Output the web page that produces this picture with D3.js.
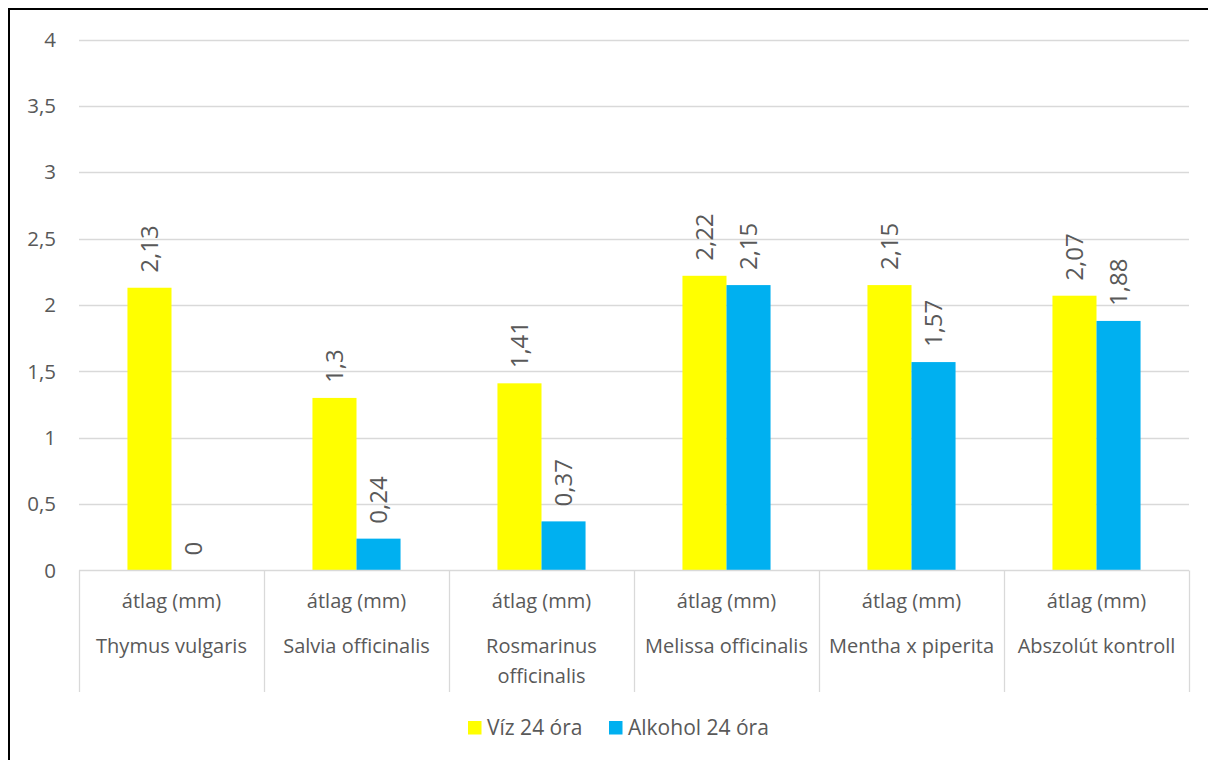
<!DOCTYPE html>
<html>
<head>
<meta charset="utf-8">
<script src="https://cdn.jsdelivr.net/npm/d3@7"></script>
<style>
  html, body { margin: 0; padding: 0; background: #fff; }
  svg { display: block; }
  text { font-family: "Open Sans", "Noto Sans", sans-serif; fill: #595959; }
</style>
</head>
<body>
<svg id="chart" width="1208" height="760"></svg>
<script>
// Plant extracts and measured mean zone values (mm)
const species = ["Thymus vulgaris", "Salvia officinalis", "Rosmarinus officinalis",
                 "Melissa officinalis", "Mentha x piperita", "Abszolút kontroll"];
const subLabel = "átlag (mm)";
const seriesNames = ["Víz 24 óra", "Alkohol 24 óra"];
const waterValues = [2.13, 1.3, 1.41, 2.22, 2.15, 2.07];
const alcoholValues = [0, 0.24, 0.37, 2.15, 1.57, 1.88];
const yTicks = [0, 0.5, 1, 1.5, 2, 2.5, 3, 3.5, 4];
const colors = ["#FFFF00", "#00B0F0"];

const svg = d3.select("#chart");
const fmt = v => String(v).replace(".", ",");

// outer frame
svg.append("rect").attr("x", 9).attr("y", 9).attr("width", 1208).attr("height", 800)
  .attr("fill", "none").attr("stroke", "#000").attr("stroke-width", 2);

const plot = { left: 79, right: 1189, top: 39.5, bottom: 570.5 };

const x = d3.scaleBand().domain(species).range([plot.left, plot.right]);
const xInner = d3.scaleBand().domain(seriesNames).range([0, x.bandwidth()])
  .paddingInner(0).paddingOuter(1.1);
const y = d3.scaleLinear().domain([0, 4]).range([plot.bottom, plot.top]);

// horizontal gridlines
svg.append("g").selectAll("line").data(yTicks.filter(d => d > 0)).join("line")
  .attr("x1", plot.left).attr("x2", plot.right)
  .attr("y1", d => Math.round(y(d)) + 0.5).attr("y2", d => Math.round(y(d)) + 0.5)
  .attr("stroke", "#d9d9d9").attr("stroke-width", 1.3);

// y axis labels
svg.append("g").selectAll("text").data(yTicks).join("text")
  .attr("x", 56).attr("y", d => y(d)).attr("dy", "0.35em")
  .attr("text-anchor", "end").attr("font-size", 20.5).text(fmt);

// bars
const series = [waterValues, alcoholValues];
series.forEach((vals, si) => {
  const g = svg.append("g");
  g.selectAll("rect").data(species).join("rect")
    .attr("x", d => x(d) + xInner(seriesNames[si]))
    .attr("width", xInner.bandwidth())
    .attr("y", (d, i) => y(vals[i]))
    .attr("height", (d, i) => y(0) - y(vals[i]))
    .attr("fill", colors[si]);
  // rotated value labels
  g.selectAll("text").data(species).join("text")
    .attr("transform", (d, i) => {
      const cx = x(d) + xInner(seriesNames[si]) + xInner.bandwidth() / 2;
      return `translate(${cx},${y(vals[i]) - 15}) rotate(-90)`;
    })
    .attr("dy", "0.35em").attr("text-anchor", "start")
    .attr("font-size", 24).attr("fill", "#404040")
    .text((d, i) => fmt(vals[i]));
});

// category axis: baseline and separators
const axisG = svg.append("g");
axisG.append("line").attr("x1", plot.left).attr("x2", plot.right)
  .attr("y1", plot.bottom).attr("y2", plot.bottom)
  .attr("stroke", "#d9d9d9").attr("stroke-width", 1.3);
const edges = species.map(d => x(d)).concat([plot.right]);
axisG.selectAll("line.sep").data(edges).join("line").attr("class", "sep")
  .attr("x1", d => Math.round(d) + 0.5).attr("x2", d => Math.round(d) + 0.5)
  .attr("y1", plot.bottom).attr("y2", 692)
  .attr("stroke", "#d9d9d9").attr("stroke-width", 1.3);

// category labels (two levels)
axisG.selectAll("text.sub").data(species).join("text").attr("class", "sub")
  .attr("x", d => x(d) + x.bandwidth() / 2).attr("y", 601).attr("dy", "0.35em")
  .attr("text-anchor", "middle").attr("font-size", 20).text(subLabel);

const wrap = { "Rosmarinus officinalis": ["Rosmarinus", "officinalis"] };
species.forEach(s => {
  const lines = wrap[s] || [s];
  const t = axisG.append("text").attr("x", x(s) + x.bandwidth() / 2)
    .attr("y", 646).attr("dy", "0.35em").attr("text-anchor", "middle")
    .attr("font-size", 20);
  lines.forEach((ln, k) => t.append("tspan").attr("x", x(s) + x.bandwidth() / 2)
    .attr("dy", k === 0 ? "0.35em" : 30).text(ln));
});

// legend
const legend = svg.append("g");
const legendItems = [{ name: seriesNames[0], color: colors[0], x: 468 },
                     { name: seriesNames[1], color: colors[1], x: 609 }];
legend.selectAll("rect").data(legendItems).join("rect")
  .attr("x", d => d.x).attr("y", 721).attr("width", 13.5).attr("height", 13.5)
  .attr("fill", d => d.color);
legend.selectAll("text").data(legendItems).join("text")
  .attr("x", d => d.x + 19).attr("y", 727.5).attr("dy", "0.35em")
  .attr("font-size", 21).text(d => d.name);
</script>
</body>
</html>
